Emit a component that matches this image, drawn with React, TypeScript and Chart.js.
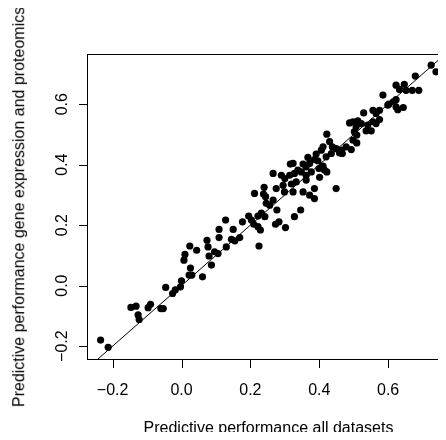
import { useEffect, useRef } from "react";
import { Chart, registerables } from "chart.js";

Chart.register(...registerables);

// Predictive performance, all datasets (x)
const allDatasets = [
  -0.235, -0.213, -0.147, -0.132, -0.126, -0.123, -0.097, -0.090, -0.060, -0.053,
  -0.046, -0.026, -0.018, -0.003, 0.000,
  0.007, 0.010, 0.024, 0.026, 0.022, 0.030, 0.044, 0.061, 0.074, 0.077,
  0.080, 0.087, 0.096, 0.106, 0.109, 0.109, 0.130, 0.128, 0.145, 0.150,
  0.155, 0.169, 0.177, 0.195, 0.203, 0.210, 0.212, 0.222, 0.225, 0.222,
  0.229, 0.240, 0.242, 0.238, 0.244, 0.246, 0.256, 0.266, 0.273, 0.277,
  0.283, 0.302, 0.328, 0.346, 0.386, 0.232,
  0.725, 0.739, 0.679, 0.623, 0.647, 0.633, 0.652, 0.670, 0.689, 0.585,
  0.623, 0.615, 0.602, 0.623, 0.644, 0.628, 0.599, 0.575, 0.556, 0.565,
  0.529, 0.575, 0.556, 0.565, 0.498, 0.512, 0.522, 0.507, 0.541, 0.551,
  0.536, 0.502, 0.509, 0.498, 0.509, 0.422, 0.430, 0.438, 0.449, 0.464,
  0.478, 0.493, 0.459, 0.467, 0.411, 0.406, 0.391, 0.420, 0.435, 0.386,
  0.396, 0.367, 0.372, 0.353, 0.362, 0.324, 0.316, 0.338, 0.328, 0.348,
  0.362, 0.377, 0.399, 0.411, 0.415, 0.422, 0.266, 0.290, 0.300, 0.314,
  0.295, 0.319, 0.333, 0.362, 0.401, 0.386, 0.449, 0.275, 0.299, 0.324,
  0.353, 0.372, 0.488,
];

// Predictive performance, gene expression and proteomics (y)
const geneExpressionProteomics = [
  -0.180, -0.204, -0.072, -0.068, -0.097, -0.112, -0.073, -0.062, -0.076, -0.076,
  -0.006, -0.026, -0.014, -0.004, 0.016,
  0.084, 0.103, 0.131, 0.058, 0.035, 0.035, 0.117, 0.029, 0.150, 0.128,
  0.098, 0.068, 0.112, 0.106, 0.186, 0.159, 0.128, 0.217, 0.153, 0.186,
  0.148, 0.159, 0.211, 0.230, 0.217, 0.203, 0.305, 0.195, 0.131, 0.230,
  0.184, 0.325, 0.228, 0.303, 0.294, 0.272, 0.266, 0.283, 0.203, 0.250,
  0.211, 0.192, 0.228, 0.250, 0.288, 0.240,
  0.729, 0.707, 0.693, 0.663, 0.666, 0.649, 0.646, 0.646, 0.646, 0.630,
  0.615, 0.608, 0.600, 0.591, 0.589, 0.582, 0.597, 0.580, 0.580, 0.569,
  0.571, 0.549, 0.542, 0.536, 0.542, 0.545, 0.536, 0.525, 0.531, 0.512,
  0.512, 0.509, 0.498, 0.481, 0.472, 0.501, 0.476, 0.459, 0.453, 0.448,
  0.459, 0.450, 0.439, 0.437, 0.459, 0.448, 0.435, 0.426, 0.437, 0.417,
  0.413, 0.424, 0.404, 0.402, 0.393, 0.404, 0.402, 0.382, 0.371, 0.376,
  0.365, 0.376, 0.387, 0.395, 0.382, 0.376, 0.371, 0.365, 0.354, 0.365,
  0.332, 0.336, 0.343, 0.349, 0.358, 0.321, 0.321, 0.321, 0.310, 0.310,
  0.310, 0.299, 0.538,
];

const xTickValues = [-0.2, 0, 0.2, 0.4, 0.6];
const xTickLabels = ["\u22120.2", "0.0", "0.2", "0.4", "0.6"];
const yTickValues = [-0.2, 0, 0.2, 0.4, 0.6];
const yTickLabels = ["\u22120.2", "0.0", "0.2", "0.4", "0.6"];
const xLimits = [-0.2745, 0.7797];
const yLimits = [-0.246, 0.766];
const xTitle = "Predictive performance all datasets";
const yTitle = "Predictive performance gene expression and proteomics";

const FONT_FAMILY = "'Liberation Sans', Arial, Helvetica, sans-serif";
const FONT = "16px " + FONT_FAMILY;

export default function App() {
  const canvasRef = useRef<HTMLCanvasElement | null>(null);
  const yLabelRefs = useRef<(HTMLSpanElement | null)[]>([]);
  const yTitleRef = useRef<HTMLSpanElement | null>(null);

  useEffect(() => {
    const canvas = canvasRef.current;
    if (!canvas) return;
    const points = allDatasets.map((x, i) => ({ x, y: geneExpressionProteomics[i] }));

    const placeVertical = (el: HTMLElement | null, cx: number, cy: number) => {
      if (!el) return;
      el.style.transform = `translate(${cx}px, ${cy}px) translate(-50%, -50%) rotate(-90deg)`;
      el.style.visibility = "visible";
    };

    const rAxesPlugin = {
      id: "rAxes",
      afterDraw(chart: any) {
        const { ctx, chartArea: a, scales } = chart;
        const xs = scales.x;
        const ys = scales.y;
        ctx.save();
        ctx.strokeStyle = "#000";
        ctx.lineWidth = 1;
        ctx.strokeRect(a.left + 0.5, a.top + 0.5, a.right - a.left - 1, a.bottom - a.top - 1);
        const by = a.bottom - 0.5;
        const lx = a.left + 0.5;
        ctx.beginPath();
        ctx.moveTo(Math.round(xs.getPixelForValue(xTickValues[0])) + 0.5, by);
        ctx.lineTo(Math.round(xs.getPixelForValue(xTickValues[xTickValues.length - 1])) + 0.5, by);
        for (const v of xTickValues) {
          const px = Math.round(xs.getPixelForValue(v)) + 0.5;
          ctx.moveTo(px, by);
          ctx.lineTo(px, by + 8.5);
        }
        ctx.moveTo(lx, Math.round(ys.getPixelForValue(yTickValues[0])) + 0.5);
        ctx.lineTo(lx, Math.round(ys.getPixelForValue(yTickValues[yTickValues.length - 1])) + 0.5);
        for (const v of yTickValues) {
          const py = Math.round(ys.getPixelForValue(v)) + 0.5;
          ctx.moveTo(lx, py);
          ctx.lineTo(lx - 8.5, py);
        }
        ctx.stroke();

        ctx.fillStyle = "#000";
        ctx.font = FONT;
        ctx.textAlign = "center";
        ctx.textBaseline = "alphabetic";
        xTickValues.forEach((v, i) => {
          ctx.fillText(xTickLabels[i], xs.getPixelForValue(v), a.bottom + 34.5);
        });
        ctx.fillText(xTitle, (a.left + a.right) / 2, a.bottom + 72.5);
        ctx.restore();

        // vertical (rotated) texts are positioned from the y scale
        yTickValues.forEach((v, i) => {
          placeVertical(yLabelRefs.current[i], a.left - 24.6, ys.getPixelForValue(v));
        });
        placeVertical(yTitleRef.current, 19.2, (a.top + a.bottom) / 2);
      },
    };

    const chart = new Chart(canvas, {
      type: "scatter",
      data: {
        datasets: [
          {
            data: [
              { x: yLimits[0], y: yLimits[0] },
              { x: yLimits[1], y: yLimits[1] },
            ],
            showLine: true,
            borderColor: "#000",
            borderWidth: 1,
            pointRadius: 0,
            fill: false,
          },
          {
            data: points,
            backgroundColor: "#000",
            borderColor: "#000",
            borderWidth: 0,
            pointRadius: 3.6,
            pointHoverRadius: 3.6,
          },
        ],
      },
      options: {
        responsive: false,
        animation: false,
        devicePixelRatio: 1,
        layout: { padding: { left: 87, top: 54, right: 10, bottom: 80 } },
        plugins: { legend: { display: false }, tooltip: { enabled: false } },
        scales: {
          x: { type: "linear", display: false, min: xLimits[0], max: xLimits[1] },
          y: { type: "linear", display: false, min: yLimits[0], max: yLimits[1] },
        },
      },
      plugins: [rAxesPlugin],
    });
    return () => chart.destroy();
  }, []);

  const vStyle: any = {
    position: "absolute",
    left: 0,
    top: 0,
    font: FONT,
    lineHeight: "16px",
    whiteSpace: "nowrap",
    color: "#000",
    transformOrigin: "50% 50%",
    visibility: "hidden",
  };

  return (
    <div
      style={{
        position: "relative",
        margin: -8,
        width: 446,
        height: 440,
        overflow: "hidden",
        background: "#fff",
      }}
    >
      <canvas
        ref={canvasRef}
        width={460}
        height={440}
        style={{ position: "absolute", left: 0, top: 0, display: "block", width: 460, height: 440 }}
      />
      {yTickLabels.map((t, i) => (
        <span
          key={t}
          ref={(el) => {
            yLabelRefs.current[i] = el;
          }}
          style={vStyle}
        >
          {t}
        </span>
      ))}
      <span ref={yTitleRef} style={vStyle}>
        {yTitle}
      </span>
    </div>
  );
}
